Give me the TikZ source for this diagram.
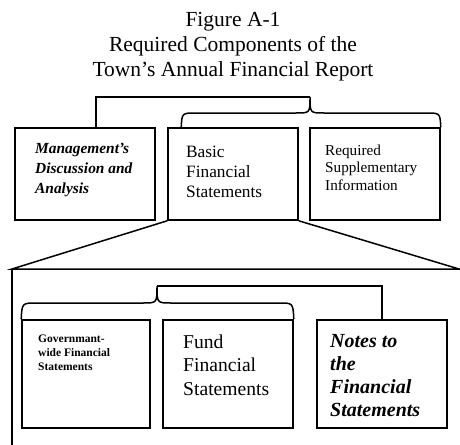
\documentclass[tikz,border=0pt]{standalone}
\usepackage{fontspec}
\setmainfont{Liberation Serif}
\begin{document}
\begin{tikzpicture}[x=1pt,y=-1pt,
  box/.style={draw,line width=1.6pt,inner sep=0pt},
  link/.style={line width=1.5pt},
  txt/.style={anchor=base west,align=left,inner sep=0pt}]
\useasboundingbox (0,0) rectangle (460,444);
% title (anchored at the baseline of its last line)
\node [anchor=base,align=center,inner sep=0pt,font=\fontsize{21.5}{25}\selectfont] (title) at (233,77)
  {Figure A-1\\Required Components of the\\Town's Annual Financial Report};
% upper row
\node [box,minimum width=140pt,minimum height=92pt] (mda) at (85,174) {};
\node [box,minimum width=130pt,minimum height=92pt] (bfs) at (233,174) {};
\node [box,minimum width=130pt,minimum height=92pt] (rsi) at (375,174) {};
\node [txt,font=\fontsize{15.4}{20}\selectfont\bfseries\itshape] (mdatext) at (35,193)
  {Management's\\Discussion and\\Analysis};
\node [txt,font=\fontsize{17.3}{20}\selectfont] (bfstext) at (186,197)
  {Basic\\Financial\\Statements};
\node [txt,font=\fontsize{15.2}{17.5}\selectfont] (rsitext) at (325,190)
  {Required\\Supplementary\\Information};
% lower row
\node [box,minimum width=128pt,minimum height=108pt] (gw) at (86,374) {};
\node [box,minimum width=130pt,minimum height=108pt] (ffs) at (228,374) {};
\node [box,minimum width=130pt,minimum height=108pt] (nfs) at (382,374) {};
\node [txt,font=\fontsize{11.5}{14}\selectfont\bfseries] (gwtext) at (38,370)
  {Governmant-\\wide Financial\\Statements};
\node [txt,font=\fontsize{19.6}{23.5}\selectfont] (ffstext) at (183,395)
  {Fund\\Financial\\Statements};
\node [txt,font=\fontsize{20}{23}\selectfont\bfseries\itshape] (nfstext) at (330,416)
  {Notes to\\the\\Financial\\Statements};
% connectors
\coordinate (topapex) at (310,97);
\coordinate (lowapex) at (157,286);
\coordinate (fl) at (12,269);
\coordinate (fr) at (459,269);
\coordinate (fb) at (12,446);
\draw [link] ([xshift=11pt]mda.north) |- (topapex);
\draw [link] ([xshift=14pt]bfs.north west) .. controls (182,113) .. (196,113) -- (296,113)
  .. controls (310,113) .. (topapex) .. controls (310,113) .. (324,113) -- (426,113)
  .. controls (440,113) .. (rsi.north east);
\draw [link] (bfs.south west) -- (fl) -- (fr) -- (bfs.south east);
\draw [link] (fl) -- (fb);
\draw [link] (lowapex) -| (nfs.north);
\draw [link] (gw.north west) .. controls (22,303) .. (37,303) -- (143,303)
  .. controls (157,303) .. (lowapex) .. controls (157,303) .. (171,303) -- (279,303)
  .. controls (293,303) .. (ffs.north east);
\end{tikzpicture}
\end{document}
